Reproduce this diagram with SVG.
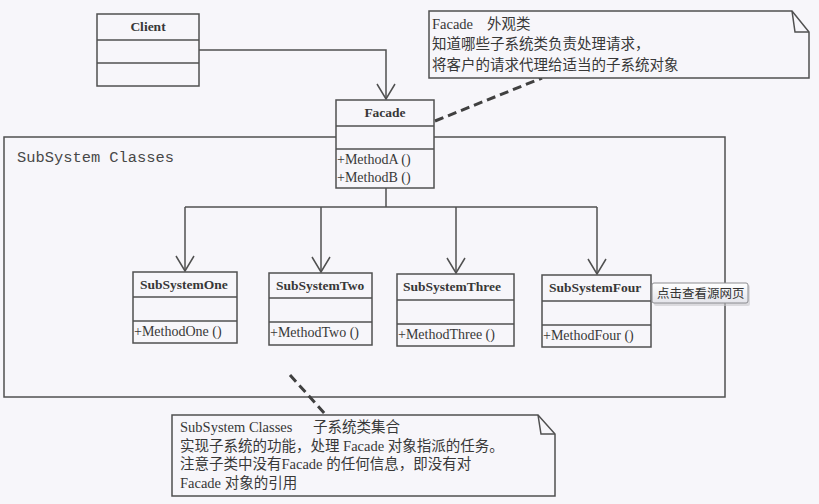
<svg xmlns="http://www.w3.org/2000/svg" width="819" height="504" viewBox="0 0 819 504">
<defs>
<style>
.ln{fill:none;stroke:#505050;stroke-width:1.5}
.box{fill:#f7f6fa;stroke:#505050;stroke-width:1.5}
.dash{fill:none;stroke:#404040;stroke-width:3;stroke-dasharray:9 5}
.cn{font-family:"Liberation Serif",serif;font-weight:bold;font-size:13.5px;fill:#383838}
.mt{font-family:"Liberation Serif",serif;font-size:14px;fill:#383838}
.pk{font-family:"Liberation Mono",monospace;font-size:15.4px;fill:#484848}
.nt{font-family:"Liberation Serif","Noto Sans CJK SC",sans-serif;font-size:14.5px;fill:#383838}
.tip{font-family:"Noto Sans CJK SC",sans-serif;font-size:12.5px;fill:#333}
</style>
<marker id="open" viewBox="0 0 20 20" refX="16" refY="10" markerWidth="20" markerHeight="20" markerUnits="userSpaceOnUse" orient="auto">
<path d="M1,1 L16,10 L1,19" fill="none" stroke="#505050" stroke-width="1.5"/>
</marker>
<linearGradient id="tipg" x1="0" y1="0" x2="0" y2="1">
<stop offset="0" stop-color="#ffffff"/>
<stop offset="1" stop-color="#e4e4ea"/>
</linearGradient>
</defs>
<rect width="819" height="504" fill="#f7f6fa"/>

<g id="package">
<rect class="ln" x="4" y="137" width="721" height="260"/>
<text class="pk" x="17" y="162">SubSystem Classes</text>
</g>

<g id="connectors">
<polyline class="ln" points="199,50 386,50 386,99" marker-end="url(#open)"/>
<polyline class="ln" points="386,188 386,207"/>
<polyline class="ln" points="185,207 597,207"/>
<polyline class="ln" points="185,207 185,271" marker-end="url(#open)"/>
<polyline class="ln" points="321,207 321,272" marker-end="url(#open)"/>
<polyline class="ln" points="456,207 456,273" marker-end="url(#open)"/>
<polyline class="ln" points="597,207 597,274" marker-end="url(#open)"/>
<line class="dash" x1="435" y1="121" x2="542" y2="78"/>
<line class="dash" x1="290" y1="375" x2="326" y2="415"/>
</g>

<g id="client">
<rect class="box" x="97" y="14" width="102" height="72"/>
<line class="ln" x1="97" y1="40" x2="199" y2="40"/>
<line class="ln" x1="97" y1="63" x2="199" y2="63"/>
<text class="cn" x="148" y="31" text-anchor="middle">Client</text>
</g>

<g id="facade">
<rect class="box" x="336" y="100" width="98" height="88"/>
<line class="ln" x1="336" y1="126" x2="434" y2="126"/>
<line class="ln" x1="336" y1="149" x2="434" y2="149"/>
<text class="cn" x="385" y="117" text-anchor="middle">Facade</text>
<text class="mt" x="337" y="164">+MethodA ()</text>
<text class="mt" x="337" y="182">+MethodB ()</text>
</g>

<g id="subsystemone">
<rect class="box" x="133" y="272" width="104" height="71"/>
<line class="ln" x1="133" y1="297" x2="237" y2="297"/>
<line class="ln" x1="133" y1="321" x2="237" y2="321"/>
<text class="cn" x="140" y="289">SubSystemOne</text>
<text class="mt" x="134" y="336">+MethodOne ()</text>
</g>

<g id="subsystemtwo">
<rect class="box" x="269" y="273" width="103" height="72"/>
<line class="ln" x1="269" y1="298" x2="372" y2="298"/>
<line class="ln" x1="269" y1="322" x2="372" y2="322"/>
<text class="cn" x="276" y="290">SubSystemTwo</text>
<text class="mt" x="270" y="337">+MethodTwo ()</text>
</g>

<g id="subsystemthree">
<rect class="box" x="397" y="274" width="117" height="72"/>
<line class="ln" x1="397" y1="300" x2="514" y2="300"/>
<line class="ln" x1="397" y1="324" x2="514" y2="324"/>
<text class="cn" x="403" y="291">SubSystemThree</text>
<text class="mt" x="398" y="339">+MethodThree ()</text>
</g>

<g id="subsystemfour">
<rect class="box" x="542" y="275" width="109" height="72"/>
<line class="ln" x1="542" y1="301" x2="651" y2="301"/>
<line class="ln" x1="542" y1="325" x2="651" y2="325"/>
<text class="cn" x="549" y="292">SubSystemFour</text>
<text class="mt" x="543" y="340">+MethodFour ()</text>
</g>

<g id="note-facade">
<polygon class="box" points="429,11 792,11 809,32 809,78 429,78"/>
<polyline class="ln" points="792,11 795,32 809,32"/>
<text class="nt" x="432" y="29">Facade<tspan x="487">外观类</tspan></text>
<text class="nt" x="432" y="49">知道哪些子系统类负责处理请求，</text>
<text class="nt" x="432" y="70">将客户的请求代理给适当的子系统对象</text>
</g>

<g id="note-subsystem">
<polygon class="box" points="172,415 538,415 555,434 555,496 172,496"/>
<polyline class="ln" points="538,415 541,434 555,434"/>
<text class="nt" x="180" y="432">SubSystem Classes<tspan x="313">子系统类集合</tspan></text>
<text class="nt" x="180" y="451">实现子系统的功能，处理 Facade 对象指派的任务。</text>
<text class="nt" x="180" y="469">注意子类中没有Facade 的任何信息，即没有对</text>
<text class="nt" x="180" y="488">Facade 对象的引用</text>
</g>

<g id="tooltip">
<rect x="654" y="285" width="96" height="21" rx="2" fill="#c8c8cc" opacity="0.6"/>
<rect x="652" y="283" width="96" height="20" rx="2" fill="url(#tipg)" stroke="#8c8c90" stroke-width="1"/>
<text class="tip" x="657" y="298">点击查看源网页</text>
</g>
</svg>
